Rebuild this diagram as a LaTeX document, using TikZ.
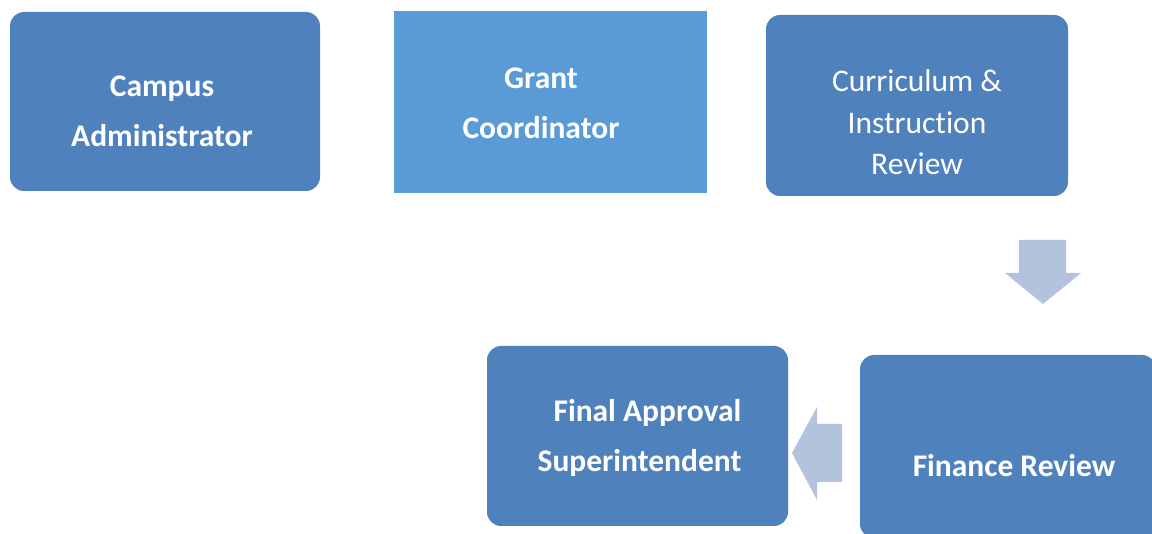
\documentclass[tikz,border=0pt]{standalone}
\usepackage{fontspec}
\setmainfont[Ligatures=NoCommon]{Carlito}
\definecolor{stageblue}{RGB}{79,129,189}
\definecolor{grantblue}{RGB}{91,155,213}
\definecolor{flowblue}{RGB}{179,194,221}
\tikzset{
    stage/.style={fill=stageblue, rounded corners=14pt, inner sep=0pt},
    lbl/.style={text=white, align=center, inner sep=0pt,
        font=\fontsize{31.5}{50}\selectfont\bfseries},
    lblthin/.style={text=white, align=center, inner sep=0pt,
        font=\fontsize{31.5}{41.5}\selectfont}
}

\begin{document}
\begin{tikzpicture}[x=1pt,y=-1pt]
                        \useasboundingbox (0,0) rectangle (1152,534);
                        \node[stage, minimum width=310pt, minimum height=179pt] (ca) at (165,101.5) {};
                        \node[stage, fill=grantblue, rounded corners=0pt, minimum width=313pt, minimum height=182pt] (gc) at (550.5,102) {};
                        \node[stage, minimum width=302pt, minimum height=181pt] (cir) at (917,105.5) {};
                        \node[stage, minimum width=301pt, minimum height=180pt] (fa) at (637.5,436) {};
                        \node[stage, minimum width=296pt, minimum height=183pt] (fr) at (1008,446.5) {};
                        \node[lbl] (cat) at (162,111.5) {Campus\\Administrator};
                        \node[lbl] (gct) at (541,103) {Grant\\Coordinator};
                        \node[lblthin] (cirt) at (917,122.5) {Curriculum \&\\Instruction\\Review};
                        \node[lbl, align=right] (fat) at (639.5,437.5) {Final Approval\\Superintendent};
                        \node[lbl] (frt) at (1014,466) {Finance Review};
                        \fill[flowblue]
                        (1019,240) -- (1066,240) -- (1066,273) -- (1081,273) -- (1043,304)
                        -- (1005,273) -- (1019,273) -- cycle;
                        \fill[flowblue]
                        (842,424) -- (842,482) -- (817,482) -- (817,500) -- (792,453)
                        -- (817,407) -- (817,424) -- cycle;
                    \end{tikzpicture}
\end{document}
